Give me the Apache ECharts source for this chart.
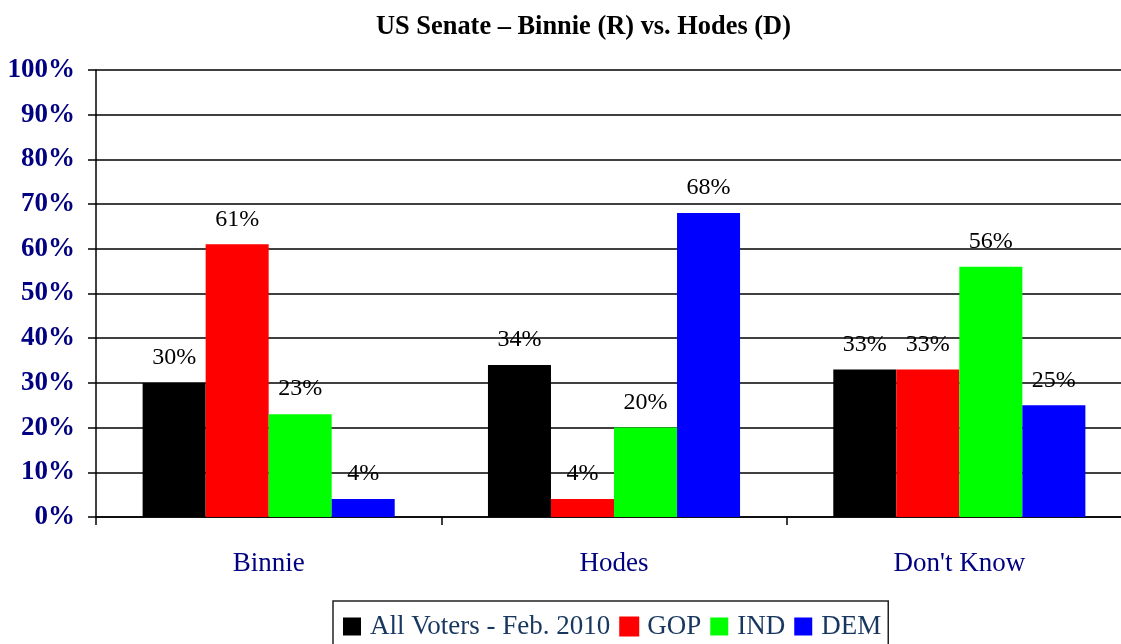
<!DOCTYPE html>
<html lang="en">
<head>
    <meta charset="UTF-8">
    <title>US Senate</title>
    <style>
        html,body{margin:0;padding:0;background:#fff;}
        #main{width:1121px;height:644px;}
    </style>
</head>
<body>
<div id="main"></div>
<script src="https://cdn.jsdelivr.net/npm/echarts@6/dist/echarts.min.js"></script>
<script>
// categories and series (percent)
const categories=['Binnie','Hodes',"Don't Know"];
const allVoters=[30,34,33];
const gop=[61,4,33];
const ind=[23,20,56];
const dem=[4,68,25];
const yTicks=[0,10,20,30,40,50,60,70,80,90,100];

const serif='"Liberation Serif","Times New Roman",serif';
const navy='#000080';

const chart=echarts.init(document.getElementById('main'));

function bar(name,data,color,border){
    return {
        name:name,
        type:'bar',
        data:data,
        barGap:0,
        barCategoryGap:'27%',
        itemStyle:border?{color:color,borderColor:color,borderWidth:1.5}:{color:color},
        label:{
            show:true,
            position:'top',
            distance:13,
            formatter:'{c}%',
            fontFamily:serif,
            fontSize:24,
            color:'#000'
        }
    };
}

const option={
    animation:false,
    title:{
        text:'US Senate \u2013 Binnie (R) vs. Hodes (D)',
        left:371,
        top:9,
        textStyle:{fontFamily:serif,fontSize:26.4,fontWeight:'bold',color:'#000'}
    },
    legend:{
        left:333,
        top:601,
        padding:[12,7,12,10],
        borderColor:'#222',
        borderWidth:1.5,
        icon:'rect',
        itemWidth:18,
        itemHeight:18,
        itemGap:9,
        textStyle:{fontFamily:serif,fontSize:27,color:'#17375e',padding:[0,0,0,4]},
        data:['All Voters - Feb. 2010','GOP','IND','DEM']
    },
    // plot runs past the right edge of the picture
    grid:{left:96,width:1036,top:70,bottom:127,containLabel:false,outerBoundsMode:'none'},
    xAxis:{
        type:'category',
        data:categories,
        axisLine:{lineStyle:{color:'#000',width:1.5}},
        axisTick:{show:true,length:8,lineStyle:{color:'#000',width:1.5}},
        axisLabel:{fontFamily:serif,fontSize:27,color:navy,margin:33}
    },
    yAxis:{
        type:'value',
        min:yTicks[0],
        max:yTicks[yTicks.length-1],
        interval:10,
        axisLine:{show:true,lineStyle:{color:'#000',width:1.5}},
        axisTick:{show:true,length:8,lineStyle:{color:'#000',width:1.5}},
        splitLine:{lineStyle:{color:'#000',width:1.5}},
        axisLabel:{fontFamily:serif,fontSize:27,fontWeight:'bold',color:navy,margin:21,padding:[5,0,0,0],formatter:'{value}%'}
    },
    series:[
        bar('All Voters - Feb. 2010',allVoters,'#000000'),
        bar('GOP',gop,'#ff0000',true),
        bar('IND',ind,'#00ff00'),
        bar('DEM',dem,'#0000ff')
    ]
};

chart.setOption(option);
</script>
</body>
</html>
